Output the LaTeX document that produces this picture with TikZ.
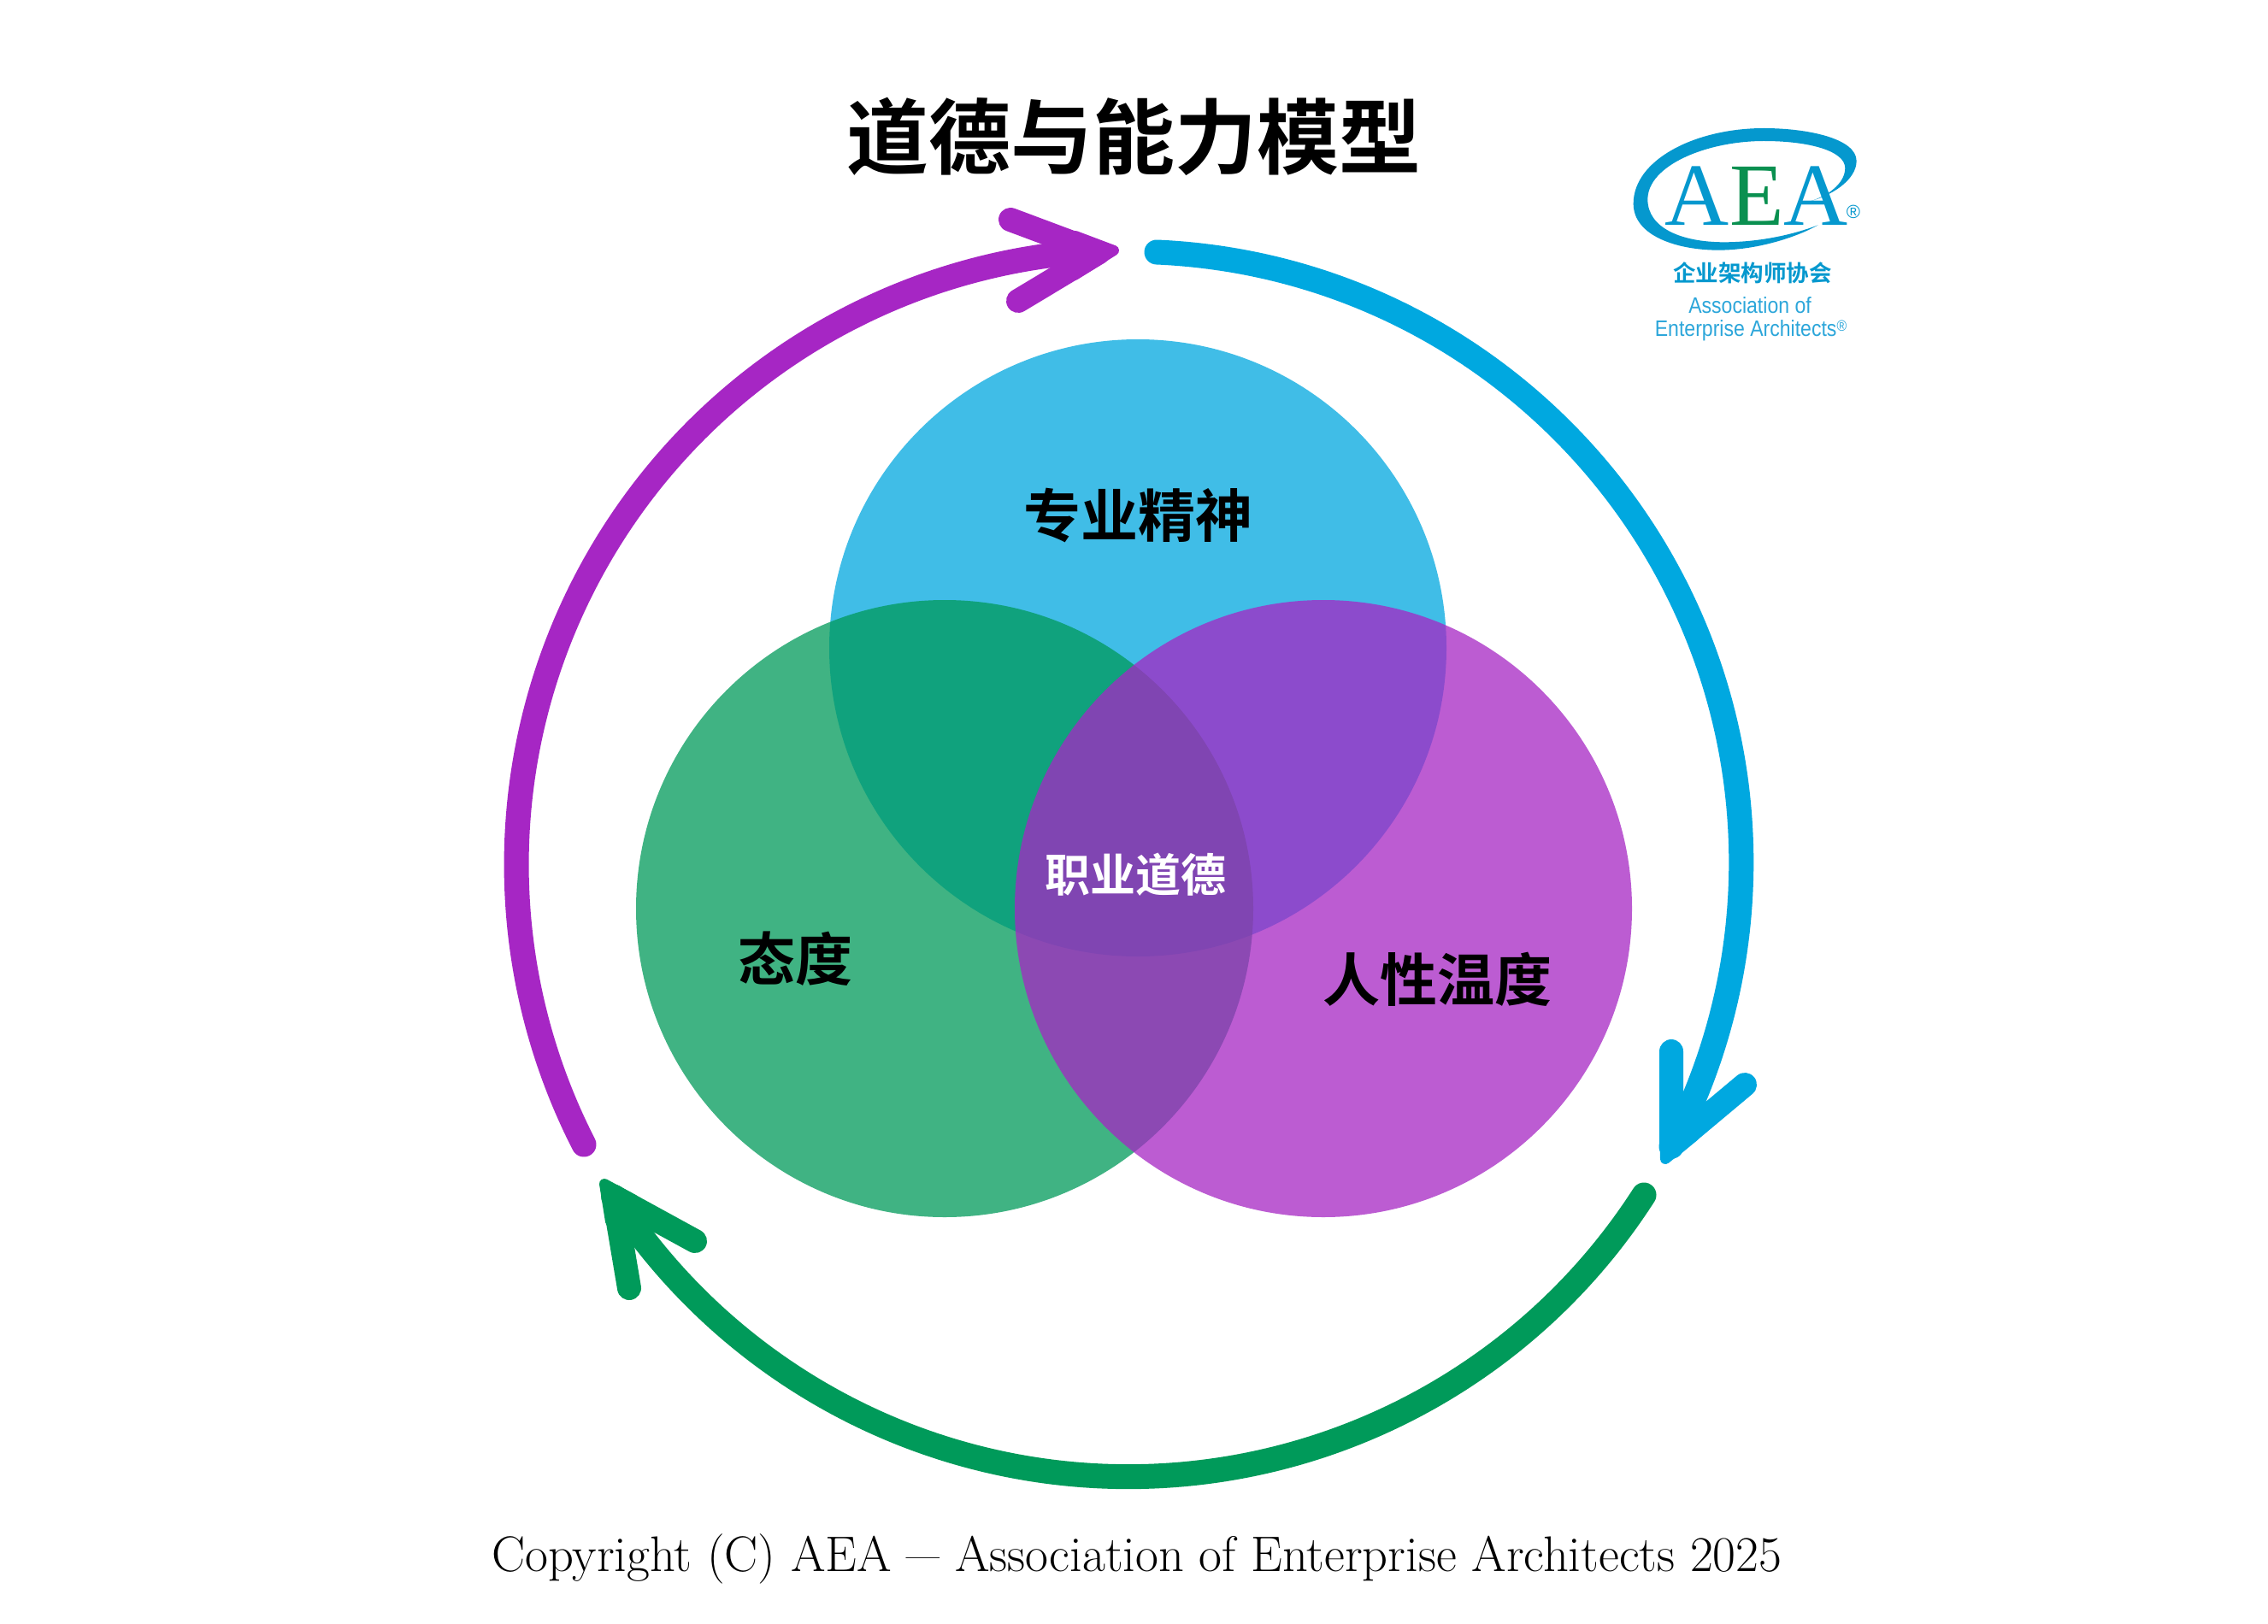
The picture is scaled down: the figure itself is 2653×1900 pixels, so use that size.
\documentclass[tikz,border=0pt]{standalone}
\usepackage{fontspec}
\usepackage{graphicx}
\setmainfont{Latin Modern Roman}
\newfontfamily\cjkb{Noto Sans CJK SC Bold}
\newfontfamily\lsans{Liberation Sans}
\newfontfamily\lsansc[FakeStretch=0.88]{Liberation Sans}
\newfontfamily\lserif{Liberation Serif}
\definecolor{ringblue}{HTML}{00A8E0}
\definecolor{ringgreen}{HTML}{009A5A}
\definecolor{ringpurple}{HTML}{A626C4}
\definecolor{logoblue}{HTML}{0598CE}
\definecolor{logotext}{HTML}{2CA6DA}
\definecolor{logogreen}{HTML}{0A9050}
\tikzset{
  ringline/.style={line width=29pt,line cap=round,line join=round},
  barbline/.style={line width=28pt,line cap=round,line join=round},
  headfill/.style={line width=12pt,line join=round},
  venn/.style={circle,minimum size=722pt,inner sep=0pt,fill opacity=0.75,text opacity=1},
  label/.style={inner sep=0pt,font=\cjkb\fontsize{67}{67}\selectfont},
}
\begin{document}
\begin{tikzpicture}[x=1pt,y=1pt,yscale=-1]
\useasboundingbox (0,0) rectangle (2653,1900);
\fill[white] (0,0) rectangle (2653,1900);
% venn circles
\node[venn,fill=ringblue] (cblue) at (1331,758) {};
\node[venn,fill=ringgreen] (cgreen) at (1105,1063) {};
\node[venn,fill=ringpurple] (cpurple) at (1548,1063) {};
\node[label] (pro) at (1331,603) {专业精神};
\node[label] (att) at (930,1122) {态度};
\node[label] (hum) at (1681,1146) {人性温度};
\node[label,text=white,font=\cjkb\fontsize{53}{53}\selectfont] (eth) at (1328,1023) {职业道德};
\node[inner sep=0pt,font=\cjkb\fontsize{96}{96}\selectfont] (title) at (1326,160) {道德与能力模型};
% rings
\draw[ringblue,ringline] (1353,295) arc[start angle=-87.5,end angle=27.67,radius=715];
\draw[ringgreen,ringline] (1923,1398) arc[start angle=32.7,end angle=147.1,radius=717];
\draw[ringpurple,ringline] (683,1339) arc[start angle=152.9,end angle=264,radius=719];
% arrowheads
\draw[ringblue,barbline] (1955,1230) -- (1955,1341) -- (2041,1269);
\filldraw[ringblue,headfill] (1948,1356) -- (1947,1320) -- (1982,1329) -- cycle;
\draw[ringgreen,barbline] (736,1507) -- (718,1400) -- (813,1452);
\filldraw[ringgreen,headfill] (707,1385) -- (714,1429) -- (742,1404) -- cycle;
\draw[ringpurple,barbline] (1182,257) -- (1285,295.5) -- (1191,352);
\filldraw[ringpurple,headfill] (1303,293) -- (1258,276) -- (1257,322) -- cycle;
% logo swoosh
\begin{scope}[shift={(1850,120)},x=0.3333pt,y=0.3333pt]
\fill[logoblue] (780,352) .. controls (880,330) and (965,270) .. (965,205)
  .. controls (965,125) and (790,90) .. (640,90)
  .. controls (400,90) and (182,200) .. (182,355)
  .. controls (182,470) and (340,518) .. (480,518)
  .. controls (620,518) and (760,470) .. (830,430)
  .. controls (740,465) and (620,490) .. (500,490)
  .. controls (350,490) and (232,440) .. (232,340)
  .. controls (232,220) and (440,135) .. (640,135)
  .. controls (800,135) and (925,170) .. (925,230)
  .. controls (925,285) and (860,335) .. (780,352) -- cycle;
\end{scope}
\node[inner sep=0pt,anchor=base,text=logoblue,font=\lserif\fontsize{104}{104}\selectfont] (a1) at (1985,263) {A};
\node[inner sep=0pt,anchor=base,text=logogreen,font=\lserif\fontsize{104}{104}\selectfont] (e1) at (2055,263) {E};
\node[inner sep=0pt,anchor=base,text=logoblue,font=\lserif\fontsize{104}{104}\selectfont] (a2) at (2124,263) {A};
\node[inner sep=0pt,text=logoblue,font=\lsans\fontsize{22}{22}\selectfont] (r1) at (2168,248) {®};
\node[inner sep=0pt,text=logoblue,font=\cjkb\fontsize{26.5}{26.5}\selectfont] (zh) at (2050,319) {企业架构师协会};
\node[inner sep=0pt,text=logotext,font=\lsansc\fontsize{26.2}{26.2}\selectfont] (assoc) at (2047,357) {Association of};
\node[inner sep=0pt,text=logotext,font=\lsansc\fontsize{26.2}{26.2}\selectfont] (ent) at (2048,387) {Enterprise Architects\raisebox{6pt}{\fontsize{18}{18}\selectfont ®}};
% copyright
\node[inner sep=0pt,anchor=base,font=\fontsize{58.5}{58.5}\selectfont] (copy) at (1330,1838) {Copyright (C) AEA \scalebox{0.72}[1]{—} Association of Enterprise Architects 2025};
\end{tikzpicture}
\end{document}
